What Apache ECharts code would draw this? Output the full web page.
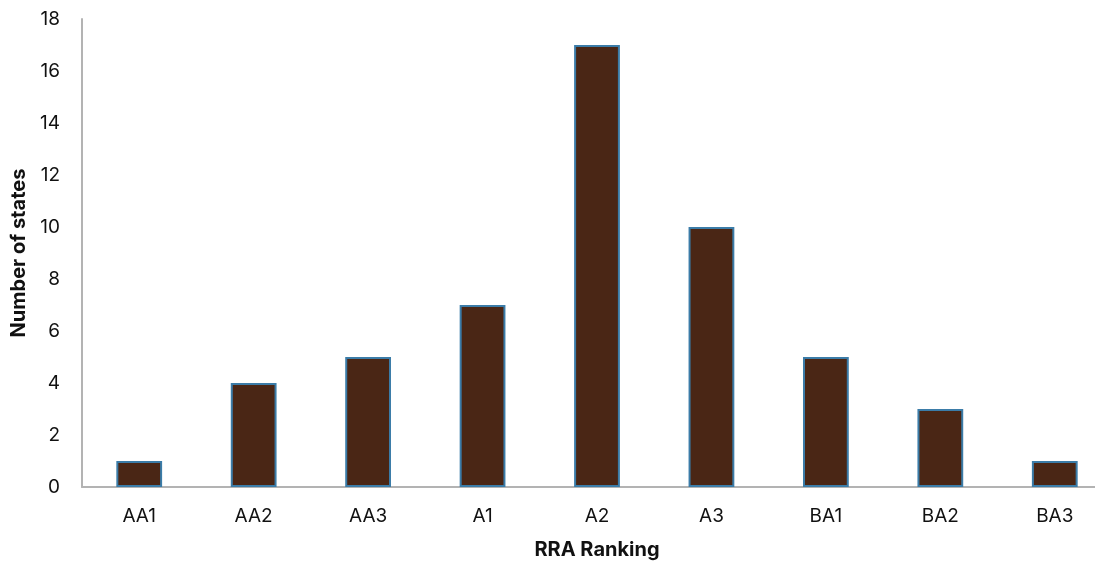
<!DOCTYPE html>
<html>
<head>
<meta charset="utf-8">
<script src="https://cdn.jsdelivr.net/npm/echarts@6/dist/echarts.min.js"></script>
<style>html,body{margin:0;padding:0;background:#fff}#c{width:1095px;height:562px}</style>
</head>
<body>
<div id="c"></div>
<script>
const categories = ['AA1','AA2','AA3','A1','A2','A3','BA1','BA2','BA3'];
const states = [1,4,5,7,17,10,5,3,1];
const yTicks = {min:0, max:18, interval:2};

const chart = echarts.init(document.getElementById('c'));
chart.setOption({
  animation:false,
  grid:{left:82, right:-17, top:19, bottom:75, containLabel:false, outerBoundsMode:'none'},
  xAxis:{
    type:'category', data:categories,
    name:'RRA Ranking', nameLocation:'middle', nameGap:53,
    nameTextStyle:{fontFamily:'Inter', fontWeight:'bold', fontSize:20, color:'#111'},
    axisLine:{lineStyle:{color:'#b3b3b3', width:2}},
    axisTick:{show:false},
    axisLabel:{fontFamily:'Inter', fontSize:19, color:'#111', margin:20}
  },
  yAxis:{
    type:'value', min:yTicks.min, max:yTicks.max, interval:yTicks.interval,
    name:'Number of states', nameLocation:'middle', nameGap:53,
    nameTextStyle:{fontFamily:'Inter', fontWeight:'bold', fontSize:20, color:'#111'},
    axisLine:{show:true, lineStyle:{color:'#b3b3b3', width:2}},
    axisTick:{show:false},
    splitLine:{show:false},
    axisLabel:{fontFamily:'Inter', fontSize:19, color:'#111', margin:22}
  },
  series:[{
    type:'bar', data:states, barWidth:'40%',
    itemStyle:{color:'#4a2615', borderColor:'#3b7ca8', borderWidth:2}
  }]
});
</script>
</body>
</html>
